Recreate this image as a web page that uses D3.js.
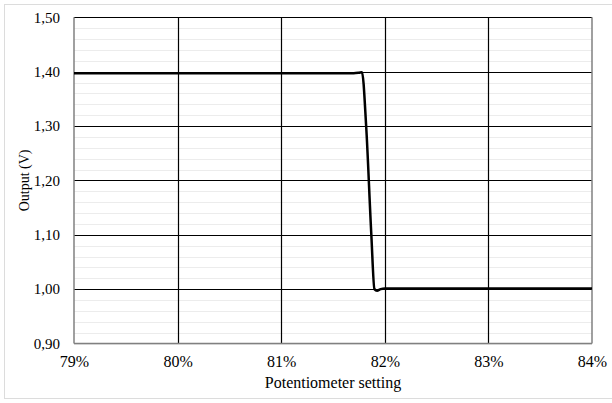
<!DOCTYPE html>
<html>
<head>
<meta charset="utf-8">
<script src="https://cdn.jsdelivr.net/npm/d3@7/dist/d3.min.js"></script>
<style>
  html, body { margin: 0; padding: 0; background: #fff; }
  svg { display: block; }
</style>
</head>
<body>
<svg id="chart" width="612" height="403"></svg>
<script>
// Potentiometer setting (%) and measured output voltage (V)
const settings = [79, 81.70, 81.75, 81.78, 81.82, 81.87, 81.90, 81.925, 81.96, 82.0, 84];
const outputs  = [1.397, 1.397, 1.398, 1.399, 1.30, 1.10, 1.00, 0.997, 1.000, 1.001, 1.001];

const xTicks = [79, 80, 81, 82, 83, 84];
const yTicks = [0.90, 1.00, 1.10, 1.20, 1.30, 1.40, 1.50];
const yMinorTicks = d3.range(0, 31).map(i => 0.90 + i * 0.02);

const xTitle = "Potentiometer setting";
const yTitle = "Output (V)";

const FONT = "Liberation Serif";

const svg = d3.select("#chart");
const W = 612, H = 403;
const m = { left: 74, right: 20, top: 17.3, bottom: 59.5 };

// outer chart frame
svg.append("rect")
  .attr("x", 4.5).attr("y", 4.5)
  .attr("width", W).attr("height", H - 9)
  .attr("fill", "none").attr("stroke", "#dcdcdc").attr("stroke-width", 1);

const x = d3.scaleLinear().domain([79, 84]).range([m.left, W - m.right]);
const y = d3.scaleLinear().domain([0.90, 1.50]).range([H - m.bottom, m.top]);

// minor horizontal grid
svg.append("g")
  .selectAll("line").data(yMinorTicks).join("line")
  .attr("x1", x(79)).attr("x2", x(84))
  .attr("y1", d => Math.round(y(d)) + 0.5).attr("y2", d => Math.round(y(d)) + 0.5)
  .attr("stroke", "#ececec").attr("stroke-width", 1);

// major horizontal grid
svg.append("g")
  .selectAll("line").data(yTicks.slice(1)).join("line")
  .attr("x1", x(79)).attr("x2", x(84))
  .attr("y1", d => Math.round(y(d)) + 0.5).attr("y2", d => Math.round(y(d)) + 0.5)
  .attr("stroke", "#000").attr("stroke-width", 1.2);

// vertical grid
svg.append("g")
  .selectAll("line").data(xTicks.slice(1, -1)).join("line")
  .attr("x1", d => Math.round(x(d)) + 0.5).attr("x2", d => Math.round(x(d)) + 0.5)
  .attr("y1", y(1.50)).attr("y2", y(0.90))
  .attr("stroke", "#000").attr("stroke-width", 1.2);

// plot frame: left, bottom and right edges in grey
const frame = svg.append("g").attr("stroke", "#808080").attr("stroke-width", 1.5).attr("fill", "none");
frame.append("line").attr("x1", x(79)).attr("x2", x(79)).attr("y1", y(1.50)).attr("y2", y(0.90));
frame.append("line").attr("x1", x(84)).attr("x2", x(84)).attr("y1", y(1.50)).attr("y2", y(0.90));
frame.append("line").attr("x1", x(79)).attr("x2", x(84)).attr("y1", y(0.90)).attr("y2", y(0.90));

// axes (labels only)
const xAxis = svg.append("g")
  .attr("transform", `translate(0,${y(0.90)})`)
  .call(d3.axisBottom(x).tickValues(xTicks).tickSize(0).tickPadding(12).tickFormat(d => d + "%"));
xAxis.select(".domain").remove();
xAxis.attr("font-family", FONT).attr("font-size", 16);
xAxis.selectAll("text")
  .attr("dy", "0.71em")
  .style("font-family", FONT).style("font-size", "16px");

const yAxis = svg.append("g")
  .attr("transform", `translate(${x(79)},0)`)
  .call(d3.axisLeft(y).tickValues(yTicks).tickSize(0).tickPadding(14)
    .tickFormat(d => d3.format(".2f")(d).replace(".", ",")));
yAxis.select(".domain").remove();
yAxis.attr("font-family", FONT).attr("font-size", 15);
yAxis.selectAll("text").style("font-family", FONT).style("font-size", "15px");

// axis titles
svg.append("text")
  .attr("x", (x(79) + x(84)) / 2).attr("y", 388)
  .attr("text-anchor", "middle")
  .style("font-family", FONT).style("font-size", "16px")
  .text(xTitle);

svg.append("text")
  .attr("transform", `translate(24,${(y(0.90) + y(1.50)) / 2}) rotate(-90)`)
  .attr("text-anchor", "middle").attr("dy", "0.35em")
  .style("font-family", FONT).style("font-size", "14px")
  .text(yTitle);

// output curve
const line = d3.line()
  .x((d, i) => x(settings[i]))
  .y(d => y(d))
  .curve(d3.curveMonotoneX);

svg.append("path")
  .datum(outputs)
  .attr("d", line)
  .attr("fill", "none")
  .attr("stroke", "#000")
  .attr("stroke-width", 2.5)
  .attr("stroke-linejoin", "round");
</script>
</body>
</html>
